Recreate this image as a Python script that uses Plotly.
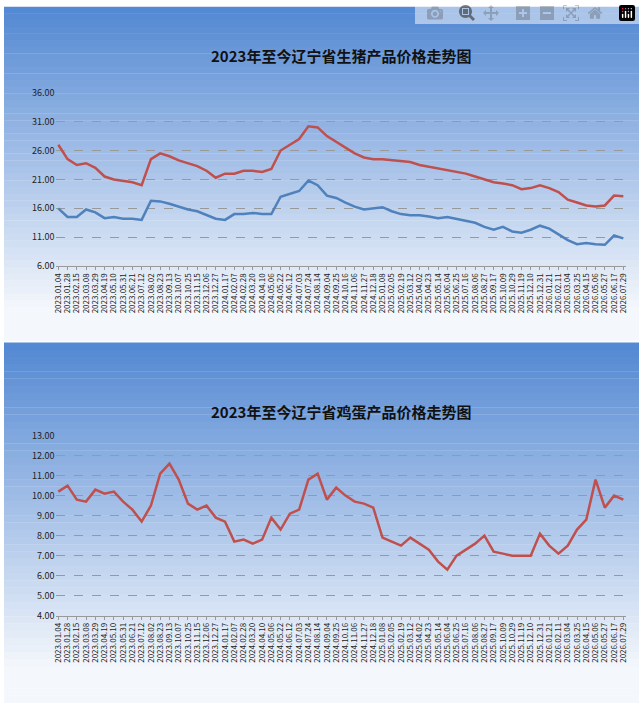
import plotly.graph_objects as go

dates = ["2023.01.04","2023.01.28","2023.02.15","2023.03.08","2023.03.29","2023.04.19","2023.05.10","2023.05.31","2023.06.21","2023.07.12","2023.08.02","2023.08.23","2023.09.13","2023.10.07","2023.10.25","2023.11.15","2023.12.06","2023.12.27",
"2024.01.17","2024.02.07","2024.02.28","2024.03.20","2024.04.10","2024.05.06","2024.05.22","2024.06.12","2024.07.03","2024.07.24","2024.08.14","2024.09.04","2024.09.25","2024.10.16","2024.11.06","2024.11.27","2024.12.18",
"2025.01.08","2025.02.05","2025.02.19","2025.03.12","2025.04.02","2025.04.23","2025.05.14","2025.06.04","2025.06.25","2025.07.16","2025.08.06","2025.08.27","2025.09.17","2025.10.09","2025.10.29","2025.11.19","2025.12.10","2025.12.31",
"2026.01.21","2026.02.11","2026.03.04","2026.03.25","2026.04.15","2026.05.06","2026.05.27","2026.06.17","2026.07.08"]
dates = dates[:61] + ["2026.07.29"]

pork_red = [27,24.5,23.5,23.8,23,21.5,21,20.8,20.5,20,24.5,25.5,25,24.3,23.8,23.3,22.5,21.3,22,22,22.5,22.5,22.3,22.8,26,27,28,30.2,30,28.5,27.5,26.5,25.5,24.8,24.5,24.5,24.3,24.2,24,23.5,23.2,23,22.7,22.3,22,21.5,21,20.5,20.3,20,19.3,19.5,20,19.5,18.8,17.5,17,16.5,16.3,16.5,18.2,18.1]
hog_blue = [16,14.5,14.5,15.8,15.3,14.3,14.5,14.2,14.2,14,17.3,17.2,16.8,16.3,15.8,15.5,14.8,14.2,14,15,15,15.2,15,15,18,18.5,19,20.8,20,18.2,17.8,17,16.3,15.8,16,16.2,15.5,15,14.8,14.8,14.6,14.3,14.5,14.2,13.8,13.5,12.8,12.3,12.8,12,11.8,12.3,13,12.5,11.5,10.5,9.8,10,9.8,9.7,11.3,10.8]
egg = [10.2,10.5,9.8,9.7,10.3,10.1,10.2,9.7,9.3,8.7,9.5,11.1,11.6,10.8,9.6,9.3,9.5,8.9,8.7,7.7,7.8,7.6,7.8,8.9,8.3,9.1,9.3,10.8,11.1,9.8,10.4,10,9.7,9.6,9.4,7.9,7.7,7.5,7.9,7.6,7.3,6.7,6.3,7,7.3,7.6,8,7.2,7.1,7,7,7,8.1,7.5,7.1,7.5,8.3,8.8,10.8,9.4,10,9.8]

W, H = 641, 709
fig = go.Figure()
fig.add_trace(go.Scatter(x=dates, y=pork_red, mode="lines", line=dict(color="#c0504d", width=2.5), xaxis="x", yaxis="y", showlegend=False))
fig.add_trace(go.Scatter(x=dates, y=hog_blue, mode="lines", line=dict(color="#4f81bd", width=2.5), xaxis="x", yaxis="y", showlegend=False))
fig.add_trace(go.Scatter(x=dates, y=egg, mode="lines", line=dict(color="#c0504d", width=2.5), xaxis="x2", yaxis="y2", showlegend=False))

def grad(y0, y1, n=50):
    shapes = []
    c0 = (84, 137, 211); c1 = (244, 247, 252)
    for i in range(n):
        t = i / (n - 1)
        t2 = min(1, t * 1.1)
        c = tuple(int(c0[k] + (c1[k] - c0[k]) * t2) for k in range(3))
        a = y0 + (y1 - y0) * i / n
        b = y0 + (y1 - y0) * (i + 1) / n
        shapes.append(dict(type="rect", xref="paper", yref="paper", x0=0, x1=1,
                           y0=1 - b / H, y1=1 - a / H + 0.0005, line_width=0,
                           fillcolor="rgb(%d,%d,%d)" % c, layer="below"))
    return shapes

shapes = grad(0, 340) + grad(342, 709)
tf = dict(family="Noto Sans CJK SC", size=9, color="#222")
xcommon = dict(type="category", tickangle=-90, tickfont=dict(tf, size=8), showgrid=False, showline=True,
               linecolor="#999", ticks="outside", ticklen=3, tickcolor="#999", range=[-0.3, 61.3],
               tickmode="array", tickvals=dates, ticktext=dates)
ycommon = dict(tickformat=".2f", tickfont=tf, showgrid=True, gridcolor="#999", griddash="dash",
               gridwidth=1, zeroline=False, showline=False)
fig.update_layout(
    width=W, height=H, margin=dict(l=0, r=0, t=0, b=0),
    paper_bgcolor="white", plot_bgcolor="rgba(0,0,0,0)", shapes=shapes,
    xaxis=dict(xcommon, domain=[52 / W, 628 / W], anchor="y"),
    yaxis=dict(ycommon, domain=[1 - 264 / H, 1 - 87 / H], range=[6, 36.05], dtick=5, tick0=6),
    xaxis2=dict(xcommon, domain=[52 / W, 628 / W], anchor="y2"),
    yaxis2=dict(ycommon, domain=[1 - 620 / H, 1 - 436 / H], range=[4, 13.03], dtick=1, tick0=4),
    annotations=[
        dict(text="<b>2023年至今辽宁省生猪产品价格走势图</b>", x=0.53, y=1 - 37 / H, xref="paper", yref="paper",
             showarrow=False, font=dict(family="Noto Sans CJK SC", size=15, color="#111")),
        dict(text="<b>2023年至今辽宁省鸡蛋产品价格走势图</b>", x=0.53, y=1 - 412 / H, xref="paper", yref="paper",
             showarrow=False, font=dict(family="Noto Sans CJK SC", size=15, color="#111")),
    ],
)
fig.write_html("out.html", post_script="document.body.style.margin='0';document.body.style.overflow='hidden';")
